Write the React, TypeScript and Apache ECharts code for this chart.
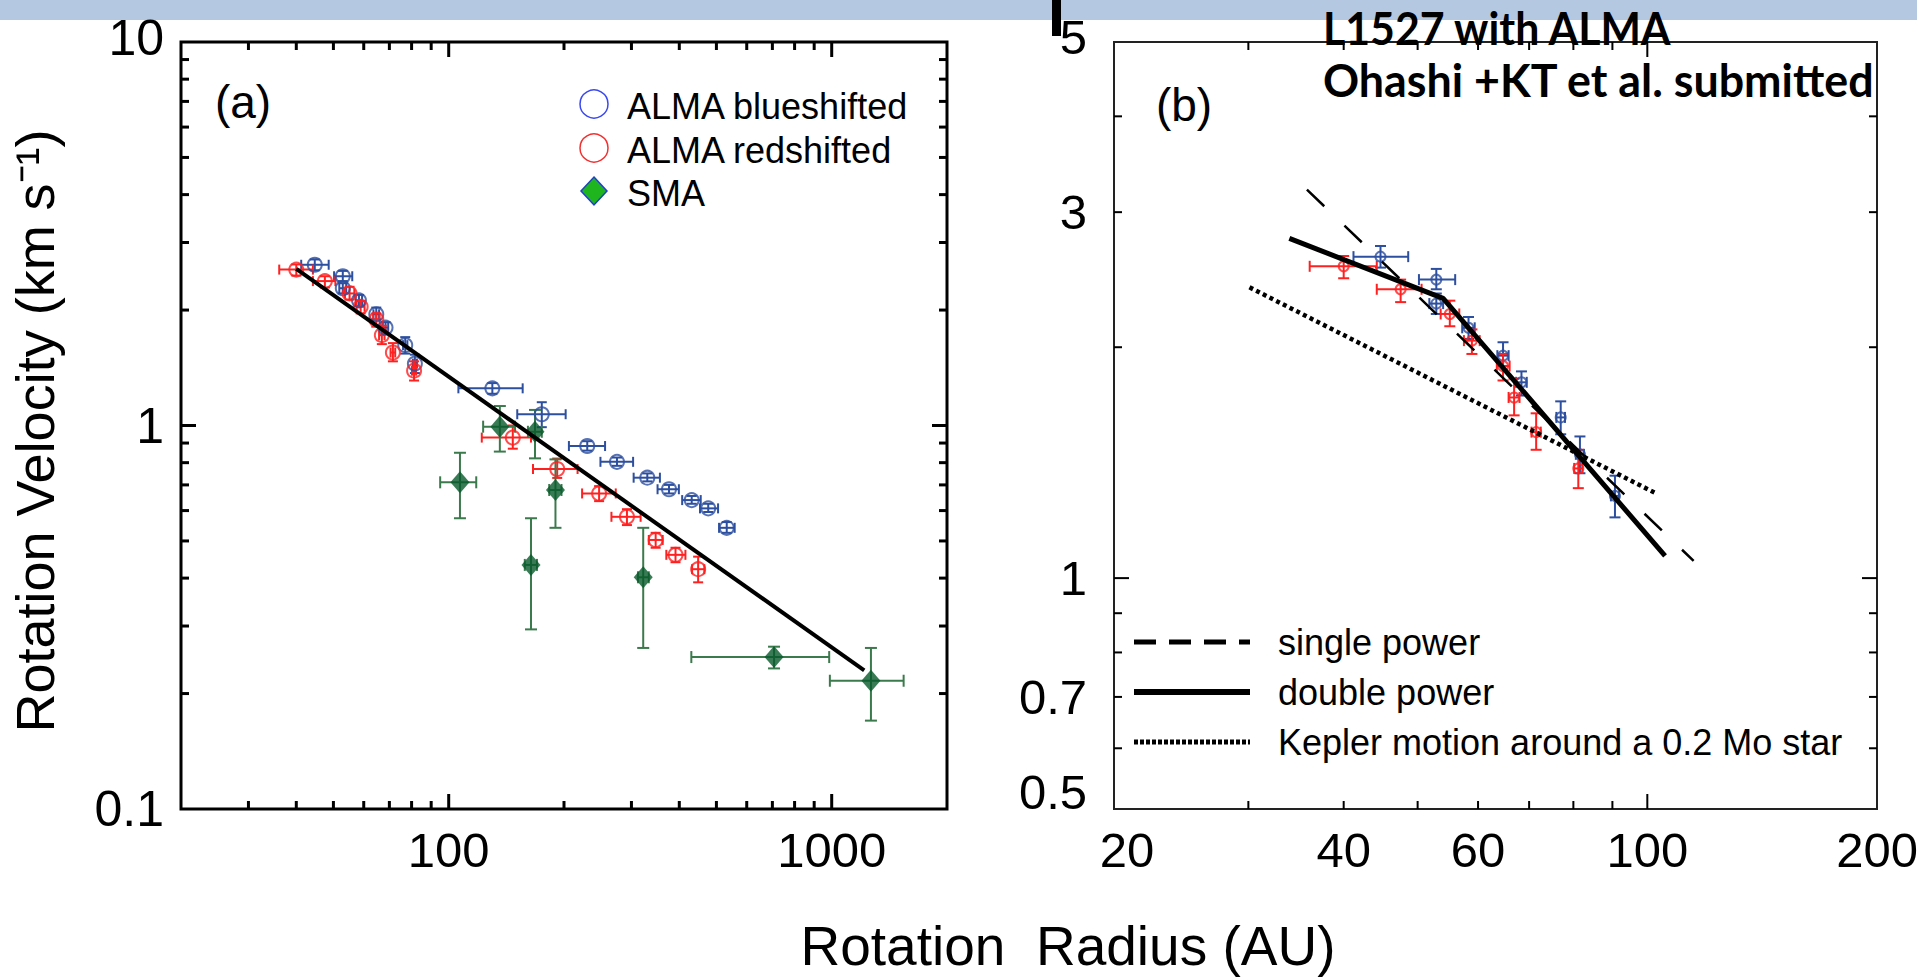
import React, { useEffect, useRef } from "react";
import * as echarts from "echarts";

// ---------------- data ----------------
// each point: [radius (AU), velocity (km/s), radius low, radius high, velocity low, velocity high]
const ALMA_RED: number[][] = [
  [40.0, 2.55, 36.1, 44.2, 2.46, 2.63],
  [47.5, 2.38, 44.2, 50.6, 2.29, 2.45],
  [55.1, 2.21, 53.6, 56.7, 2.13, 2.3],
  [58.9, 2.04, 57.5, 60.3, 1.96, 2.11],
  [64.7, 1.89, 63.5, 66.0, 1.81, 1.96],
  [66.9, 1.72, 65.8, 68.0, 1.63, 1.82],
  [71.5, 1.55, 70.5, 72.5, 1.47, 1.64],
  [81.2, 1.39, 80.2, 82.2, 1.31, 1.47],
  [147, 0.93, 122, 164, 0.87, 1.0],
  [192, 0.77, 166, 217, 0.73, 0.82],
  [247, 0.665, 223, 273, 0.635, 0.695],
  [292, 0.578, 266, 317, 0.55, 0.605],
  [347, 0.503, 333, 362, 0.48, 0.525],
  [391, 0.46, 370, 415, 0.44, 0.48],
  [448, 0.422, 432, 465, 0.39, 0.455],
];

const ALMA_BLUE: number[][] = [
  [44.7, 2.625, 41.2, 48.6, 2.54, 2.71],
  [52.9, 2.45, 50.2, 56.0, 2.38, 2.53],
  [52.9, 2.28, 51.8, 54.0, 2.21, 2.35],
  [58.3, 2.12, 57.2, 59.4, 2.05, 2.19],
  [64.7, 1.95, 63.6, 65.8, 1.89, 2.03],
  [68.4, 1.8, 67.3, 69.5, 1.73, 1.86],
  [77.0, 1.62, 76.0, 78.0, 1.54, 1.7],
  [81.6, 1.45, 80.6, 82.6, 1.37, 1.53],
  [130, 1.25, 106, 156, 1.21, 1.29],
  [175, 1.07, 151, 202, 0.99, 1.15],
  [230, 0.884, 206, 256, 0.86, 0.91],
  [275, 0.804, 249, 303, 0.785, 0.825],
  [330, 0.731, 304, 356, 0.715, 0.75],
  [376, 0.682, 351, 399, 0.665, 0.7],
  [431, 0.639, 407, 455, 0.625, 0.655],
  [476, 0.608, 453, 505, 0.595, 0.625],
  [532, 0.541, 508, 558, 0.525, 0.56],
];
// blueshifted point shown only in the zoomed panel (b)
const ALMA_BLUE_B_ONLY: number[][] = [[90.7, 1.28, 89.6, 91.8, 1.2, 1.36]];

const SMA: number[][] = [
  [107, 0.711, 95, 118, 0.573, 0.849],
  [136, 0.993, 123, 149, 0.855, 1.124],
  [164, 0.433, 158, 170, 0.294, 0.573],
  [168, 0.963, 161, 175, 0.821, 1.098],
  [190, 0.679, 183, 197, 0.541, 0.816],
  [322, 0.402, 312, 333, 0.263, 0.541],
  [707, 0.249, 430, 985, 0.2326, 0.265],
  [1266, 0.216, 989, 1541, 0.17, 0.263],
];

// fitted curves (end / break points)
const FIT_A: number[][] = [[40, 2.56], [1216, 0.23]];
const SINGLE_POWER: number[][] = [[35.8, 3.21], [115, 1.053]];
const DOUBLE_POWER: number[][] = [[33.95, 2.773], [54.0, 2.316], [105.5, 1.069]];
const KEPLER: number[][] = [[30.1, 2.394], [102.6, 1.29]];

// panel (b) zoom limit
const B_MAX_R = 100;

// axes
const A_X_RANGE = [20, 2000];
const A_Y_RANGE = [0.1, 10];
const A_X_MAJOR = [100, 1000];
const A_X_MINOR = [30, 40, 50, 60, 70, 80, 90, 200, 300, 400, 500, 600, 700, 800, 900];
const A_Y_MAJOR = [1];
const A_Y_MINOR = [0.2, 0.3, 0.4, 0.5, 0.6, 0.7, 0.8, 0.9, 2, 3, 4, 5, 6, 7, 8, 9];
const A_X_LABELS = [100, 1000];
const A_X_LABEL_TEXT = ["100", "1000"];
const A_Y_LABELS = [0.1, 1, 10];
const A_Y_LABEL_TEXT = ["0.1", "1", "10"];

const B_X_RANGE = [20, 200];
const B_Y_RANGE = [0.5, 5];
const B_X_MAJOR = [100];
const B_X_MINOR = [30, 40, 50, 60, 70, 80, 90];
const B_Y_MAJOR = [1];
const B_Y_MINOR = [0.6, 0.7, 0.8, 0.9, 2, 3, 4];
const B_X_LABELS = [20, 40, 60, 100, 200];
const B_X_LABEL_TEXT = ["20", "40", "60", "100", "200"];
const B_Y_LABELS = [0.5, 0.7, 1, 3, 5];
const B_Y_LABEL_TEXT = ["0.5", "0.7", "1", "3", "5"];

// ---------------- style / layout ----------------
const FONT = '"Liberation Sans", Arial, Helvetica, sans-serif';
const BLUE = "#2d4f9f";
const RED = "#ff2020";
const GREEN_DARK = "#075a2b";
const GREEN_BAR = "#3b7a4c";
const GRID_A = { left: 181, top: 42, width: 766, height: 767 };
const GRID_B = { left: 1114, top: 42, width: 763, height: 767 };

function errorBars(points: number[][], color: string, gi: number, cap: number, lw: number) {
  return {
    type: "custom",
    xAxisIndex: gi,
    yAxisIndex: gi,
    silent: true,
    clip: false,
    z: 3,
    data: points,
    encode: { x: 0, y: 1 },
    renderItem: (params: any, api: any) => {
      const x = api.value(0);
      const y = api.value(1);
      const c = api.coord([x, y]);
      const l = api.coord([api.value(2), y])[0];
      const r = api.coord([api.value(3), y])[0];
      const b = api.coord([x, api.value(4)])[1];
      const t = api.coord([x, api.value(5)])[1];
      const st = { stroke: color, lineWidth: lw };
      const h = cap / 2;
      return {
        type: "group",
        children: [
          { type: "line", shape: { x1: l, y1: c[1], x2: r, y2: c[1] }, style: st },
          { type: "line", shape: { x1: l, y1: c[1] - h, x2: l, y2: c[1] + h }, style: st },
          { type: "line", shape: { x1: r, y1: c[1] - h, x2: r, y2: c[1] + h }, style: st },
          { type: "line", shape: { x1: c[0], y1: b, x2: c[0], y2: t }, style: st },
          { type: "line", shape: { x1: c[0] - h, y1: b, x2: c[0] + h, y2: b }, style: st },
          { type: "line", shape: { x1: c[0] - h, y1: t, x2: c[0] + h, y2: t }, style: st },
        ],
      };
    },
  };
}

function tickSeries(
  gi: number,
  dir: "x" | "y",
  major: number[],
  minor: number[],
  other: number,
  majorLen: number,
  minorLen: number,
  lw: number
) {
  const vals = [...major, ...minor];
  const lens = [...major.map(() => majorLen), ...minor.map(() => minorLen)];
  return {
    type: "custom",
    xAxisIndex: gi,
    yAxisIndex: gi,
    silent: true,
    clip: false,
    z: 4,
    data: vals.map((v) => (dir === "x" ? [v, other] : [other, v])),
    renderItem: (params: any, api: any) => {
      const cs = params.coordSys;
      const p = api.coord([api.value(0), api.value(1)]);
      const len = lens[params.dataIndex];
      const st = { stroke: "#000", lineWidth: lw };
      if (dir === "x") {
        const bot = cs.y + cs.height;
        const top = cs.y;
        return {
          type: "group",
          children: [
            { type: "line", shape: { x1: p[0], y1: bot, x2: p[0], y2: bot - len }, style: st },
            { type: "line", shape: { x1: p[0], y1: top, x2: p[0], y2: top + len }, style: st },
          ],
        };
      }
      const lft = cs.x;
      const rgt = cs.x + cs.width;
      return {
        type: "group",
        children: [
          { type: "line", shape: { x1: lft, y1: p[1], x2: lft + len, y2: p[1] }, style: st },
          { type: "line", shape: { x1: rgt, y1: p[1], x2: rgt - len, y2: p[1] }, style: st },
        ],
      };
    },
  };
}

function labelSeries(
  gi: number,
  dir: "x" | "y",
  values: number[],
  texts: string[],
  other: number,
  fontSize: number,
  offset: number,
  shifts: Record<string, number> = {}
) {
  return {
    type: "custom",
    xAxisIndex: gi,
    yAxisIndex: gi,
    silent: true,
    clip: false,
    z: 4,
    data: values.map((v) => (dir === "x" ? [v, other] : [other, v])),
    renderItem: (params: any, api: any) => {
      const cs = params.coordSys;
      const p = api.coord([api.value(0), api.value(1)]);
      const text = texts[params.dataIndex];
      const shift = shifts[text] || 0;
      const font = `${fontSize}px ${FONT}`;
      if (dir === "x") {
        return {
          type: "text",
          x: p[0] + shift,
          y: cs.y + cs.height + offset,
          style: {
            text,
            font,
            fill: "#000",
            textAlign: "center",
            textVerticalAlign: "middle",
            align: "center",
            verticalAlign: "middle",
          },
        };
      }
      return {
        type: "text",
        x: cs.x - offset,
        y: p[1] + shift,
        style: {
          text,
          font,
          fill: "#000",
          textAlign: "right",
          textVerticalAlign: "middle",
          align: "right",
          verticalAlign: "middle",
        },
      };
    },
  };
}

function measure(text: string, font: string) {
  const ctx = document.createElement("canvas").getContext("2d");
  if (!ctx) return 0;
  ctx.font = font;
  return ctx.measureText(text).width;
}

function txt(text: string, x: number, y: number, size: number, align = "left", extra: any = {}) {
  return {
    type: "text",
    x,
    y,
    z: 10,
    ...extra,
    style: {
      text,
      font: `${size}px ${FONT}`,
      fill: "#000",
      textAlign: align,
      align,
      textVerticalAlign: "middle",
      verticalAlign: "middle",
    },
  };
}

function buildOption() {
  const redB = ALMA_RED.filter((p) => p[0] < B_MAX_R);
  const blueB = [...ALMA_BLUE.filter((p) => p[0] < B_MAX_R), ...ALMA_BLUE_B_ONLY];

  const annFont = 'bold 46px Lato, "Noto Sans", sans-serif';
  const ann1 = "L1527 with ALMA";
  const ann2 = "Ohashi +KT et al. submitted";
  const w1 = measure(ann1, annFont) || 350;
  const w2 = measure(ann2, annFont) || 552;

  const hollow = (color: string) => ({ color: "rgba(0,0,0,0)", borderColor: color, borderWidth: 2 });

  const hiddenAxis = {
    type: "log",
    logBase: 10,
    axisLine: { show: false },
    axisTick: { show: false },
    axisLabel: { show: false },
    splitLine: { show: false },
  };

  return {
    animation: false,
    backgroundColor: "#fff",
    grid: [
      { ...GRID_A, show: true, borderColor: "#000", borderWidth: 3, backgroundColor: "rgba(0,0,0,0)" },
      { ...GRID_B, show: true, borderColor: "#222", borderWidth: 2, backgroundColor: "rgba(0,0,0,0)" },
    ],
    xAxis: [
      { ...hiddenAxis, gridIndex: 0, min: A_X_RANGE[0], max: A_X_RANGE[1] },
      { ...hiddenAxis, gridIndex: 1, min: B_X_RANGE[0], max: B_X_RANGE[1] },
    ],
    yAxis: [
      { ...hiddenAxis, gridIndex: 0, min: A_Y_RANGE[0], max: A_Y_RANGE[1] },
      { ...hiddenAxis, gridIndex: 1, min: B_Y_RANGE[0], max: B_Y_RANGE[1] },
    ],
    graphic: [
      { type: "rect", shape: { x: 0, y: 0, width: 1917, height: 20 }, style: { fill: "#b4c8e2" }, z: 1 },
      { type: "rect", shape: { x: 1052, y: 0, width: 9, height: 36 }, style: { fill: "#000" }, z: 2 },
      txt("Rotation Velocity (km s⁻¹)", 35, 431, 54, "center", { rotation: Math.PI / 2 }),
      txt("Rotation  Radius (AU)", 1068, 946, 55, "center"),
      txt("(a)", 243, 102, 46, "center"),
      txt("(b)", 1184, 105, 46, "center"),
      // panel (a) legend
      { type: "circle", shape: { cx: 594, cy: 104, r: 14 }, style: { fill: "none", stroke: "#3a48f0", lineWidth: 1.5 }, z: 10 },
      { type: "circle", shape: { cx: 594, cy: 148, r: 14 }, style: { fill: "none", stroke: "#f23030", lineWidth: 1.5 }, z: 10 },
      {
        type: "polygon",
        shape: { points: [[594, 177], [607, 191], [594, 205], [581, 191]] },
        style: { fill: "#1fb51f", stroke: "#2040c8", lineWidth: 1.5 },
        z: 10,
      },
      txt("ALMA blueshifted", 627, 106, 36),
      txt("ALMA redshifted", 627, 150, 36),
      txt("SMA", 627, 193, 36),
      // panel (b) legend
      { type: "line", shape: { x1: 1134, y1: 642, x2: 1250, y2: 642 }, style: { stroke: "#000", lineWidth: 5, lineDash: [22, 13] }, z: 10 },
      { type: "line", shape: { x1: 1134, y1: 692, x2: 1250, y2: 692 }, style: { stroke: "#000", lineWidth: 6 }, z: 10 },
      { type: "line", shape: { x1: 1134, y1: 742, x2: 1250, y2: 742 }, style: { stroke: "#000", lineWidth: 5, lineDash: [4, 2] }, z: 10 },
      txt("single power", 1278, 642, 36),
      txt("double power", 1278, 692, 36),
      txt("Kepler motion around a 0.2 Mo star", 1278, 742, 36),
      // annotation
      {
        type: "text", x: 1323, y: 27, z: 10, scaleX: 350 / w1,
        style: { text: ann1, font: annFont, fill: "#000", textAlign: "left", align: "left", textVerticalAlign: "middle", verticalAlign: "middle" },
      },
      {
        type: "text", x: 1323, y: 79, z: 10, scaleX: 552 / w2,
        style: { text: ann2, font: annFont, fill: "#000", textAlign: "left", align: "left", textVerticalAlign: "middle", verticalAlign: "middle" },
      },
    ],
    series: [
      // ----- panel (a) -----
      errorBars(ALMA_BLUE, BLUE, 0, 10, 2),
      errorBars(ALMA_RED, RED, 0, 10, 2),
      errorBars(SMA, GREEN_BAR, 0, 12, 2),
      {
        type: "scatter", name: "ALMA blueshifted", xAxisIndex: 0, yAxisIndex: 0, z: 3, silent: true,
        symbol: "circle", symbolSize: 14, itemStyle: hollow(BLUE), data: ALMA_BLUE.map((p) => [p[0], p[1]]),
      },
      {
        type: "scatter", name: "ALMA redshifted", xAxisIndex: 0, yAxisIndex: 0, z: 3, silent: true,
        symbol: "circle", symbolSize: 14, itemStyle: hollow(RED), data: ALMA_RED.map((p) => [p[0], p[1]]),
      },
      {
        type: "scatter", name: "SMA", xAxisIndex: 0, yAxisIndex: 0, z: 3, silent: true,
        symbol: "diamond", symbolSize: [19, 22], itemStyle: { color: GREEN_DARK }, data: SMA.map((p) => [p[0], p[1]]),
      },
      {
        type: "line", name: "power-law fit", xAxisIndex: 0, yAxisIndex: 0, z: 5, silent: true, showSymbol: false,
        lineStyle: { color: "#000", width: 4 }, data: FIT_A,
      },
      tickSeries(0, "x", A_X_MAJOR, A_X_MINOR, A_Y_RANGE[0], 15, 8, 3),
      tickSeries(0, "y", A_Y_MAJOR, A_Y_MINOR, A_X_RANGE[0], 15, 8, 3),
      labelSeries(0, "x", A_X_LABELS, A_X_LABEL_TEXT, A_Y_RANGE[0], 49, 41),
      labelSeries(0, "y", A_Y_LABELS, A_Y_LABEL_TEXT, A_X_RANGE[0], 50, 17, { "10": -4 }),
      // ----- panel (b) -----
      errorBars(blueB, BLUE, 1, 11, 2),
      errorBars(redB, RED, 1, 11, 2),
      {
        type: "scatter", name: "blueshifted (b)", xAxisIndex: 1, yAxisIndex: 1, z: 3, silent: true,
        symbol: "circle", symbolSize: 10, itemStyle: hollow(BLUE), data: blueB.map((p) => [p[0], p[1]]),
      },
      {
        type: "scatter", name: "redshifted (b)", xAxisIndex: 1, yAxisIndex: 1, z: 3, silent: true,
        symbol: "circle", symbolSize: 10, itemStyle: hollow(RED), data: redB.map((p) => [p[0], p[1]]),
      },
      {
        type: "line", name: "Kepler", xAxisIndex: 1, yAxisIndex: 1, z: 5, silent: true, showSymbol: false,
        lineStyle: { color: "#000", width: 4.5, type: [4, 3.5] }, data: KEPLER,
      },
      {
        type: "line", name: "single power", xAxisIndex: 1, yAxisIndex: 1, z: 5, silent: true, showSymbol: false,
        lineStyle: { color: "#000", width: 2.5, type: [24, 28] }, data: SINGLE_POWER,
      },
      {
        type: "line", name: "double power", xAxisIndex: 1, yAxisIndex: 1, z: 5, silent: true, showSymbol: false,
        lineStyle: { color: "#000", width: 5 }, data: DOUBLE_POWER,
      },
      tickSeries(1, "x", B_X_MAJOR, B_X_MINOR, B_Y_RANGE[0], 15, 8, 2),
      tickSeries(1, "y", B_Y_MAJOR, B_Y_MINOR, B_X_RANGE[0], 15, 8, 2),
      labelSeries(1, "x", B_X_LABELS, B_X_LABEL_TEXT, B_Y_RANGE[0], 49, 41, { "20": 13 }),
      labelSeries(1, "y", B_Y_LABELS, B_Y_LABEL_TEXT, B_X_RANGE[0], 49, 27, { "0.5": -17, "5": -5 }),
    ],
  };
}

export default function App() {
  const ref = useRef<HTMLDivElement>(null);
  useEffect(() => {
    if (!ref.current) return;
    const chart = echarts.init(ref.current, undefined, { renderer: "svg" });
    chart.setOption(buildOption() as any);
    return () => chart.dispose();
  }, []);
  return (
    <div
      ref={ref}
      style={{ position: "fixed", left: 0, top: 0, width: 1917, height: 980, background: "#fff" }}
    />
  );
}
